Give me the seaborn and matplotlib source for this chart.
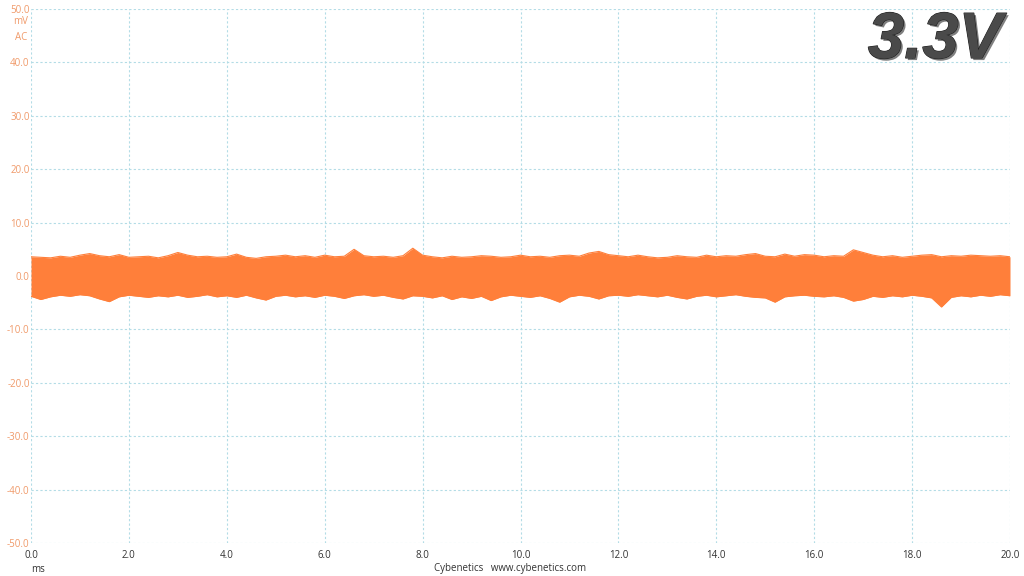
import numpy as np
import pandas as pd
import matplotlib
matplotlib.use("Agg")
import matplotlib.pyplot as plt
import matplotlib.patheffects as pe
import seaborn as sns

# ---- data ----
upper_mv = [3.6, 3.5, 3.4, 3.7, 3.5, 3.9, 4.2, 3.8, 3.6, 4.0,
            3.5, 3.6, 3.7, 3.4, 3.8, 4.4, 3.9, 3.6, 3.7, 3.5,
            3.6, 4.1, 3.5, 3.3, 3.6, 3.7, 3.9, 3.6, 3.8, 3.5,
            3.9, 3.6, 3.7, 5.0, 3.8, 3.6, 3.7, 3.5, 3.8, 5.2,
            3.9, 3.6, 3.4, 3.7, 3.5, 3.6, 3.8, 3.7, 3.5, 3.6,
            3.9, 3.6, 3.7, 3.5, 3.8, 3.9, 3.7, 4.3, 4.6, 4.0,
            3.8, 3.6, 3.9, 3.6, 3.4, 3.5, 3.8, 3.6, 3.5, 3.9,
            3.6, 3.8, 3.7, 4.0, 4.2, 3.7, 3.6, 4.1, 3.7, 4.0,
            3.9, 3.6, 3.8, 3.7, 4.9, 4.4, 3.9, 3.6, 3.8, 3.5,
            3.7, 3.9, 4.0, 3.6, 3.8, 3.7, 3.9, 3.8, 3.7, 3.8,
            3.6]
lower_mv = [-3.8, -4.4, -3.9, -3.6, -3.8, -3.5, -3.7, -4.3, -4.8, -3.9,
            -3.6, -3.8, -4.0, -3.7, -3.9, -3.6, -4.0, -3.8, -3.5, -3.9,
            -3.7, -4.0, -3.6, -4.1, -4.5, -3.8, -3.6, -3.9, -3.7, -4.0,
            -3.6, -3.8, -4.2, -3.7, -3.5, -3.8, -3.6, -4.0, -4.3, -3.7,
            -3.8, -4.1, -3.7, -4.4, -3.9, -4.2, -3.8, -4.6, -3.9, -3.6,
            -3.8, -4.0, -3.7, -4.2, -4.9, -3.9, -3.6, -3.8, -4.3, -3.7,
            -3.6, -3.8, -3.5, -3.7, -3.9, -3.6, -4.0, -4.3, -3.8, -3.6,
            -3.9, -3.7, -3.5, -3.8, -4.0, -4.1, -4.9, -3.9, -3.7, -3.6,
            -3.8, -3.9, -3.7, -4.0, -4.7, -4.4, -3.8, -4.0, -3.7, -3.9,
            -3.6, -3.8, -4.1, -5.8, -4.0, -3.7, -3.9, -3.6, -3.8, -3.5,
            -3.7]
time_ms = np.linspace(0.0, 20.0, len(upper_mv))
x_ticks = [0, 2, 4, 6, 8, 10, 12, 14, 16, 18, 20]
y_ticks = [-50, -40, -30, -20, -10, 0, 10, 20, 30, 40, 50]
title_text = "3.3V"

# ---- styling ----
sns.set_style("white")
plt.rcParams['font.family'] = ['Open Sans', 'DejaVu Sans']

trace_color = "#FF7F3A"
ylabel_color = "#F09A6A"
grid_color = "#B3DCE6"

fig = plt.figure(figsize=(10.24, 5.76), dpi=100)
ax = fig.add_axes([31 / 1024, 33 / 576, 979 / 1024, 534 / 576])

df = pd.DataFrame({"t": np.concatenate([time_ms, time_ms]),
                   "v": np.concatenate([upper_mv, lower_mv]),
                   "edge": ["upper"] * len(time_ms) + ["lower"] * len(time_ms)})

ax.fill_between(time_ms, lower_mv, upper_mv, color=trace_color, linewidth=0, zorder=3)
sns.lineplot(data=df, x="t", y="v", hue="edge", palette=[trace_color, trace_color],
             linewidth=0.8, legend=False, ax=ax, zorder=3, estimator=None)

ax.set_xlim(0, 20)
ax.set_ylim(-50, 50)
ax.set_xticks(x_ticks)
ax.set_yticks(y_ticks)
ax.set_xticklabels([f"{v:.1f}" for v in x_ticks])
ax.set_yticklabels([f"{v:.1f}" for v in y_ticks])
ax.tick_params(axis="x", colors="#333333", labelsize=7, length=0, pad=5)
ax.tick_params(axis="y", colors=ylabel_color, labelsize=7, length=0, pad=1)
ax.set_xlabel("")
ax.set_ylabel("")

ax.grid(True, color=grid_color, linestyle=(0, (2, 2)), linewidth=0.8, zorder=0)
for s in ax.spines.values():
    s.set_visible(False)

# units
fig.text(21 / 1024, 1 - 22 / 576, "mV", color=ylabel_color, fontsize=7, ha="center", va="center")
fig.text(21 / 1024, 1 - 37 / 576, "AC", color=ylabel_color, fontsize=7, ha="center", va="center")
fig.text(38 / 1024, 1 - 570 / 576, "ms", color="#333333", fontsize=7, ha="center", va="center")
fig.text(510 / 1024, 1 - 569 / 576, "Cybenetics   www.cybenetics.com", color="#333333",
         fontsize=7, ha="center", va="center")

# big title
fig.text(1002 / 1024, 1 - 41 / 576, title_text, fontsize=47, fontweight="bold",
         fontstyle="italic", family=["Liberation Sans", "DejaVu Sans"],
         color="#4A4A4A", ha="right", va="center",
         path_effects=[pe.withSimplePatchShadow(offset=(1.5, -1.5), shadow_rgbFace="#000000", alpha=0.5),
                       pe.Stroke(linewidth=0.8, foreground="#222222"), pe.Normal()])

fig.savefig("out.png", dpi=100)
